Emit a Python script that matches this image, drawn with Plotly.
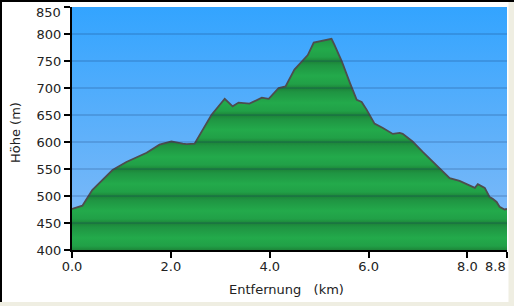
import plotly.graph_objects as go

# Elevation profile data (distance km, elevation m)
dist_km = [0.0, 0.21, 0.41, 0.82, 1.10, 1.51, 1.77, 2.01, 2.24, 2.32, 2.48, 2.82, 3.09, 3.25,
           3.37, 3.59, 3.84, 3.98, 4.18, 4.32, 4.50, 4.64, 4.77, 4.89, 5.25, 5.31, 5.46,
           5.62, 5.76, 5.86, 5.96, 6.12, 6.29, 6.49, 6.63, 6.69, 6.89, 7.09, 7.30, 7.48,
           7.64, 7.84, 8.05, 8.15, 8.21, 8.35, 8.45, 8.51, 8.59, 8.65, 8.75, 8.80]
elev_m = [476, 482, 511, 548, 563, 580, 595, 601, 597, 596, 597, 650, 680, 666,
          673, 671, 682, 680, 700, 703, 734, 749, 761, 784, 791, 780, 749,
          710, 678, 674, 660, 634, 626, 615, 617, 615, 601, 582, 564, 548,
          533, 528, 519, 515, 522, 515, 498, 495, 489, 480, 475, 476]

x_ticks = [0.0, 2.0, 4.0, 6.0, 8.0, 8.8]
x_ticklabels = ["0.0", "2.0", "4.0", "6.0", "8.0", "8.8"]
y_ticks = [400, 450, 500, 550, 600, 650, 700, 750, 800, 850]
y_ticklabels = ["400", "450", "500", "550", "600", "650", "700", "750", "800", "850"]

X_MIN, X_MAX = 0.0, 8.8
Y_MIN, Y_MAX = 400, 850

FONT = "DejaVu Sans"
TXT = "#222222"

# green banded colorscale: one band per 50 m
nb = (Y_MAX - Y_MIN) // 50
green_scale = []
for i in range(nb):
    a = i / nb
    b = (i + 1) / nb
    green_scale.append([a, "#1d8639"])
    green_scale.append([a + (b - a) * 0.15, "#21a047"])
    green_scale.append([a + (b - a) * 0.45, "#23aa4b"])
    green_scale.append([a + (b - a) * 0.85, "#1f9442"])
    green_scale.append([b - 1e-6, "#1c8238"])
green_scale[-1][0] = 1.0

fig = go.Figure()

# sky background (gradient)
fig.add_trace(go.Scatter(
    x=[X_MIN, X_MAX, X_MAX, X_MIN], y=[Y_MIN, Y_MIN, Y_MAX, Y_MAX],
    mode="none", fill="toself",
    fillgradient=dict(type="vertical", start=Y_MIN, stop=Y_MAX,
                      colorscale=[[0, "#86bcf6"], [1, "#33a4ff"]]),
    hoverinfo="skip", showlegend=False))

# terrain
fig.add_trace(go.Scatter(
    x=dist_km, y=elev_m, mode="lines", fill="tozeroy",
    line=dict(color="#4d4d4d", width=1.8),
    fillgradient=dict(type="vertical", start=Y_MIN, stop=Y_MAX, colorscale=green_scale),
    hoverinfo="skip", showlegend=False))

shapes = []
# grid lines above fill
for yv in y_ticks[1:-1]:
    shapes.append(dict(type="line", xref="paper", yref="y", x0=0, x1=1, y0=yv, y1=yv,
                       line=dict(color="rgba(20,50,100,0.35)", width=1), layer="above"))

# frame / page details (plot domain: x 72..507 px, y 7..250 px)
def px_x(p):
    return (p - 72) / 435.0

def px_y(p):
    return (250 - p) / 243.0

shapes.append(dict(type="rect", xref="paper", yref="paper",
                   x0=px_x(-2), x1=px_x(516), y0=px_y(302), y1=px_y(308),
                   fillcolor="#efeee2", line=dict(width=0), layer="below"))
shapes.append(dict(type="rect", xref="paper", yref="paper",
                   x0=px_x(508.5), x1=px_x(516), y0=px_y(308), y1=px_y(2),
                   fillcolor="#efeee2", line=dict(width=0), layer="below"))
shapes.append(dict(type="line", xref="paper", yref="paper",
                   x0=px_x(0), x1=px_x(514), y0=px_y(1), y1=px_y(1),
                   line=dict(color="black", width=2)))
shapes.append(dict(type="line", xref="paper", yref="paper",
                   x0=px_x(1), x1=px_x(1), y0=px_y(0), y1=px_y(302),
                   line=dict(color="black", width=2)))

# edge tick labels are nudged inward, as in the original
x_text = x_ticklabels[:-1] + [""]
y_text = y_ticklabels[:-1] + [""]

fig.update_layout(
    width=514, height=306,
    margin=dict(l=72, r=7, t=7, b=56),
    paper_bgcolor="white", plot_bgcolor="white",
    font=dict(family=FONT, size=13, color=TXT),
    showlegend=False,
    shapes=shapes,
    xaxis=dict(range=[X_MIN, X_MAX], tickvals=x_ticks, ticktext=x_text, automargin=False,
               showgrid=False, zeroline=False, showline=True, linecolor="black", linewidth=2,
               ticks="outside", ticklen=6, tickwidth=2, tickcolor="black", layer="above traces",
               ticklabelstandoff=-3,
               tickfont=dict(family=FONT, size=13, color=TXT)),
    yaxis=dict(range=[Y_MIN, Y_MAX], tickvals=y_ticks, ticktext=y_text, automargin=False,
               showgrid=False, zeroline=False, showline=True, linecolor="black", linewidth=2,
               ticks="outside", ticklen=6, tickwidth=2, tickcolor="black", layer="above traces",
               tickfont=dict(family=FONT, size=13, color=TXT)),
    annotations=[
        dict(text=x_ticklabels[-1], xref="paper", yref="paper",
             x=px_x(508), y=px_y(266.5), xanchor="right", yanchor="middle",
             showarrow=False, font=dict(family=FONT, size=13, color=TXT)),
        dict(text=y_ticklabels[-1], xref="paper", yref="paper",
             x=px_x(63), y=px_y(12), xanchor="right", yanchor="middle",
             showarrow=False, font=dict(family=FONT, size=13, color=TXT)),
        dict(text="Entfernung\u00a0\u00a0\u00a0(km)", xref="paper", yref="paper",
             x=px_x(286), y=px_y(289), xanchor="center", yanchor="middle",
             showarrow=False, font=dict(family=FONT, size=13, color=TXT)),
        dict(text="Höhe (m)", xref="paper", yref="paper", textangle=-90,
             x=px_x(15), y=px_y(132), xanchor="center", yanchor="middle",
             showarrow=False, font=dict(family=FONT, size=13, color=TXT)),
    ],
)

fig.write_html("out.html")
